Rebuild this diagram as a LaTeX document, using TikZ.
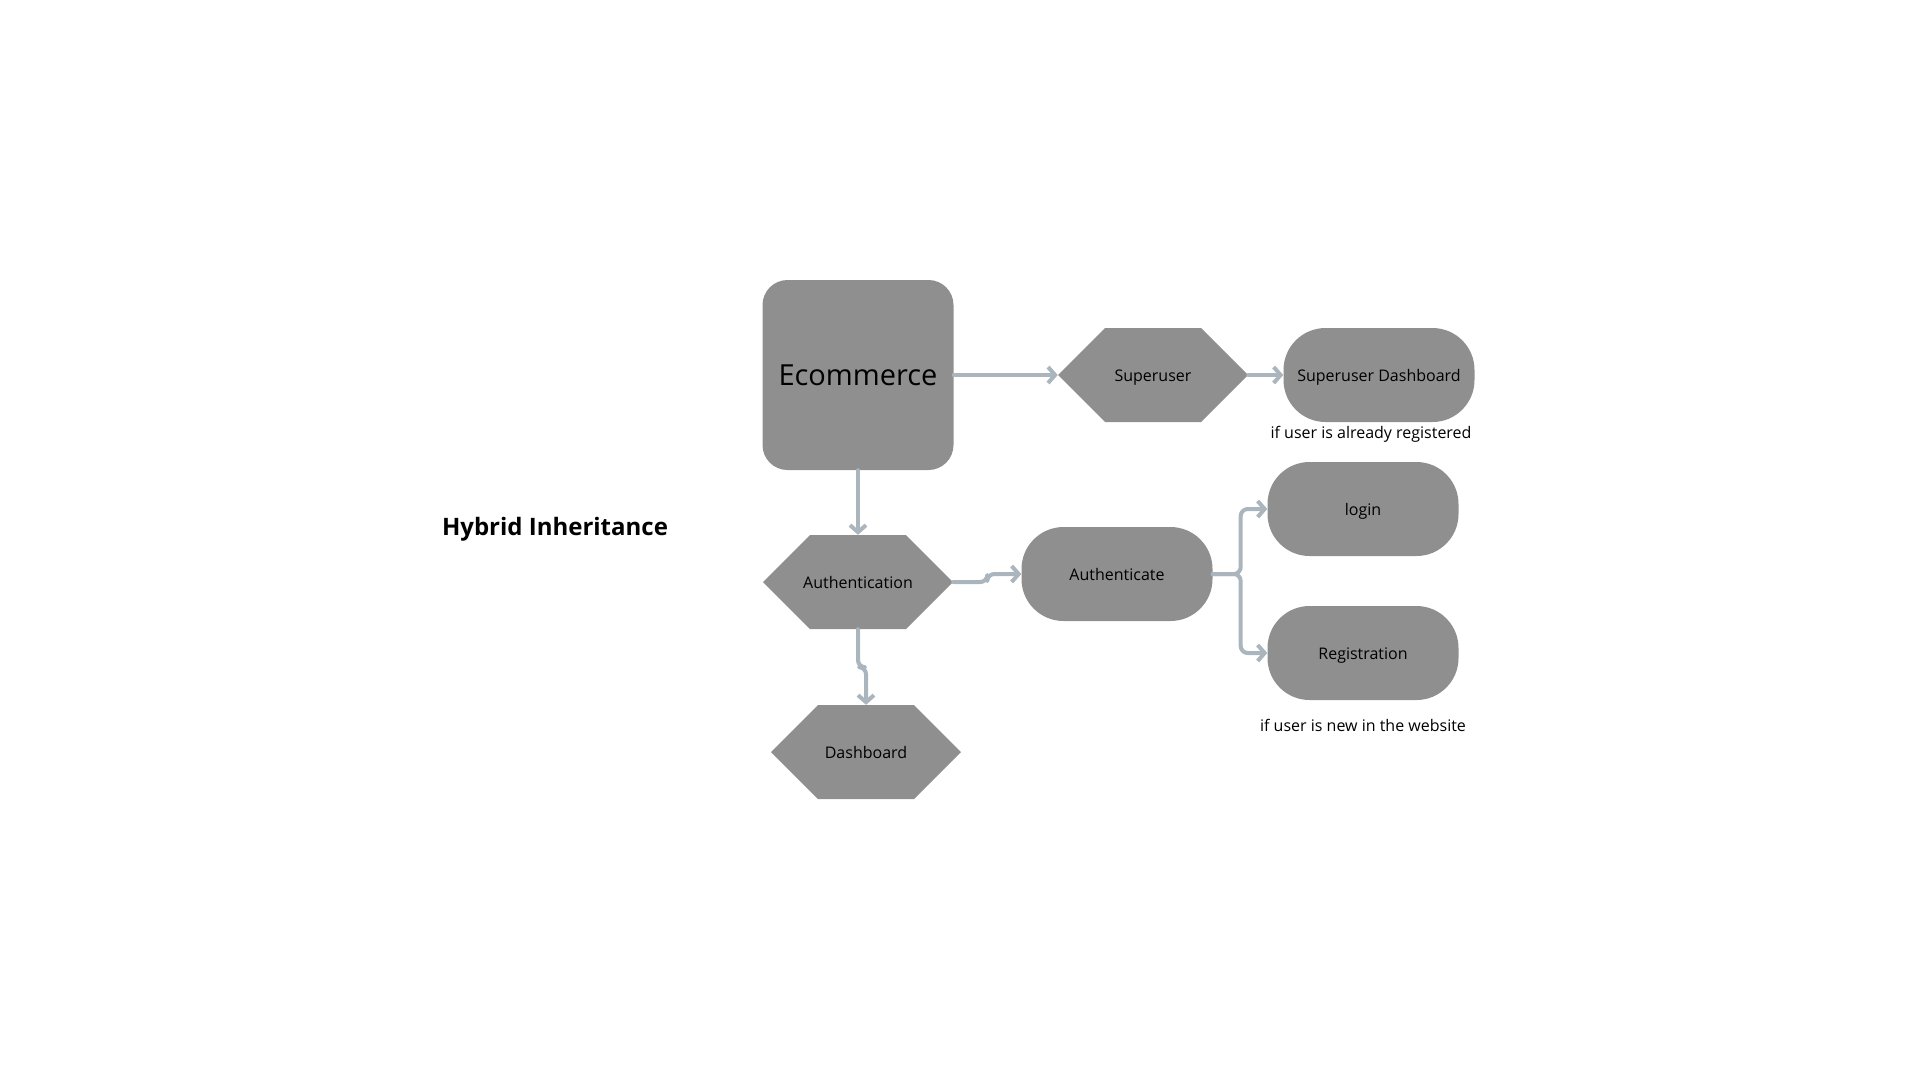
\documentclass[tikz,border=0pt]{standalone}
\usepackage{fontspec}
\setmainfont{Open Sans}
\usetikzlibrary{shapes.symbols,arrows.meta}
\definecolor{boxgray}{RGB}{143,143,143}
\definecolor{linkgray}{RGB}{170,181,189}
\newcommand{\hexlabel}[1]{\makebox[0pt]{#1}}
\tikzset{
  hexa/.style={signal,signal to=east and west,signal pointer angle=90,fill=boxgray,
    minimum width=190pt,minimum height=94pt,inner sep=0pt,text height=12pt,text depth=0pt,
    font=\fontsize{16}{19}\selectfont},
  pill/.style={rectangle,rounded corners=42pt,fill=boxgray,minimum width=191pt,
    minimum height=94pt,inner sep=0pt,text height=12pt,text depth=0pt,font=\fontsize{16}{19}\selectfont},
  note/.style={inner sep=0pt,font=\fontsize{16}{19}\selectfont},
  link/.style={draw=linkgray,line width=4pt,line cap=round,line join=round,rounded corners=7pt,
    -{Straight Barb[length=7pt,width=16pt]}}
}
\begin{document}
\begin{tikzpicture}[x=1pt,y=-1pt]
    \useasboundingbox (0,0) rectangle (1920,1080);
    \node[inner sep=0pt,font=\fontsize{24}{29}\selectfont\bfseries] (title) at (555,529) {Hybrid Inheritance};
    \node[rectangle,rounded corners=25pt,fill=boxgray,minimum width=191pt,minimum height=190pt,
      font=\fontsize{29}{34}\selectfont] (ecom) at (858,375) {Ecommerce};
    \node[hexa] (super) at (1153,375) {\hexlabel{Superuser}};
    \node[pill] (superdash) at (1379,375) {Superuser Dashboard};
     \node[note] (regnote) at (1371,434) {if user is already registered};
    \node[hexa] (authn) at (858,582) {\hexlabel{Authentication}};
    \node[pill] (authc) at (1117,574) {Authenticate};
    \node[pill] (login) at (1363,509) {login};
    \node[pill] (reg) at (1363,653) {Registration};
     \node[note] (newnote) at (1363,725) {if user is new in the website};
    \node[hexa] (dash) at (866,752) {\hexlabel{Dashboard}};

    \draw[link] (ecom.east) -- (super.west);
    \draw[link] (super.east) -- (superdash.west);
    \draw[link] (ecom.south) -- (authn.north);
    \draw[link] (authn.east) -- ++(34,0) |- (authc.west);
    \draw[link] (authc.east) -- ++(28,0) |- (login.west);
    \draw[link] (authc.east) -- ++(28,0) |- (reg.west);
    \draw[link] (authn.south) -- ++(0,38) -| (dash.north);
\end{tikzpicture}
\end{document}
